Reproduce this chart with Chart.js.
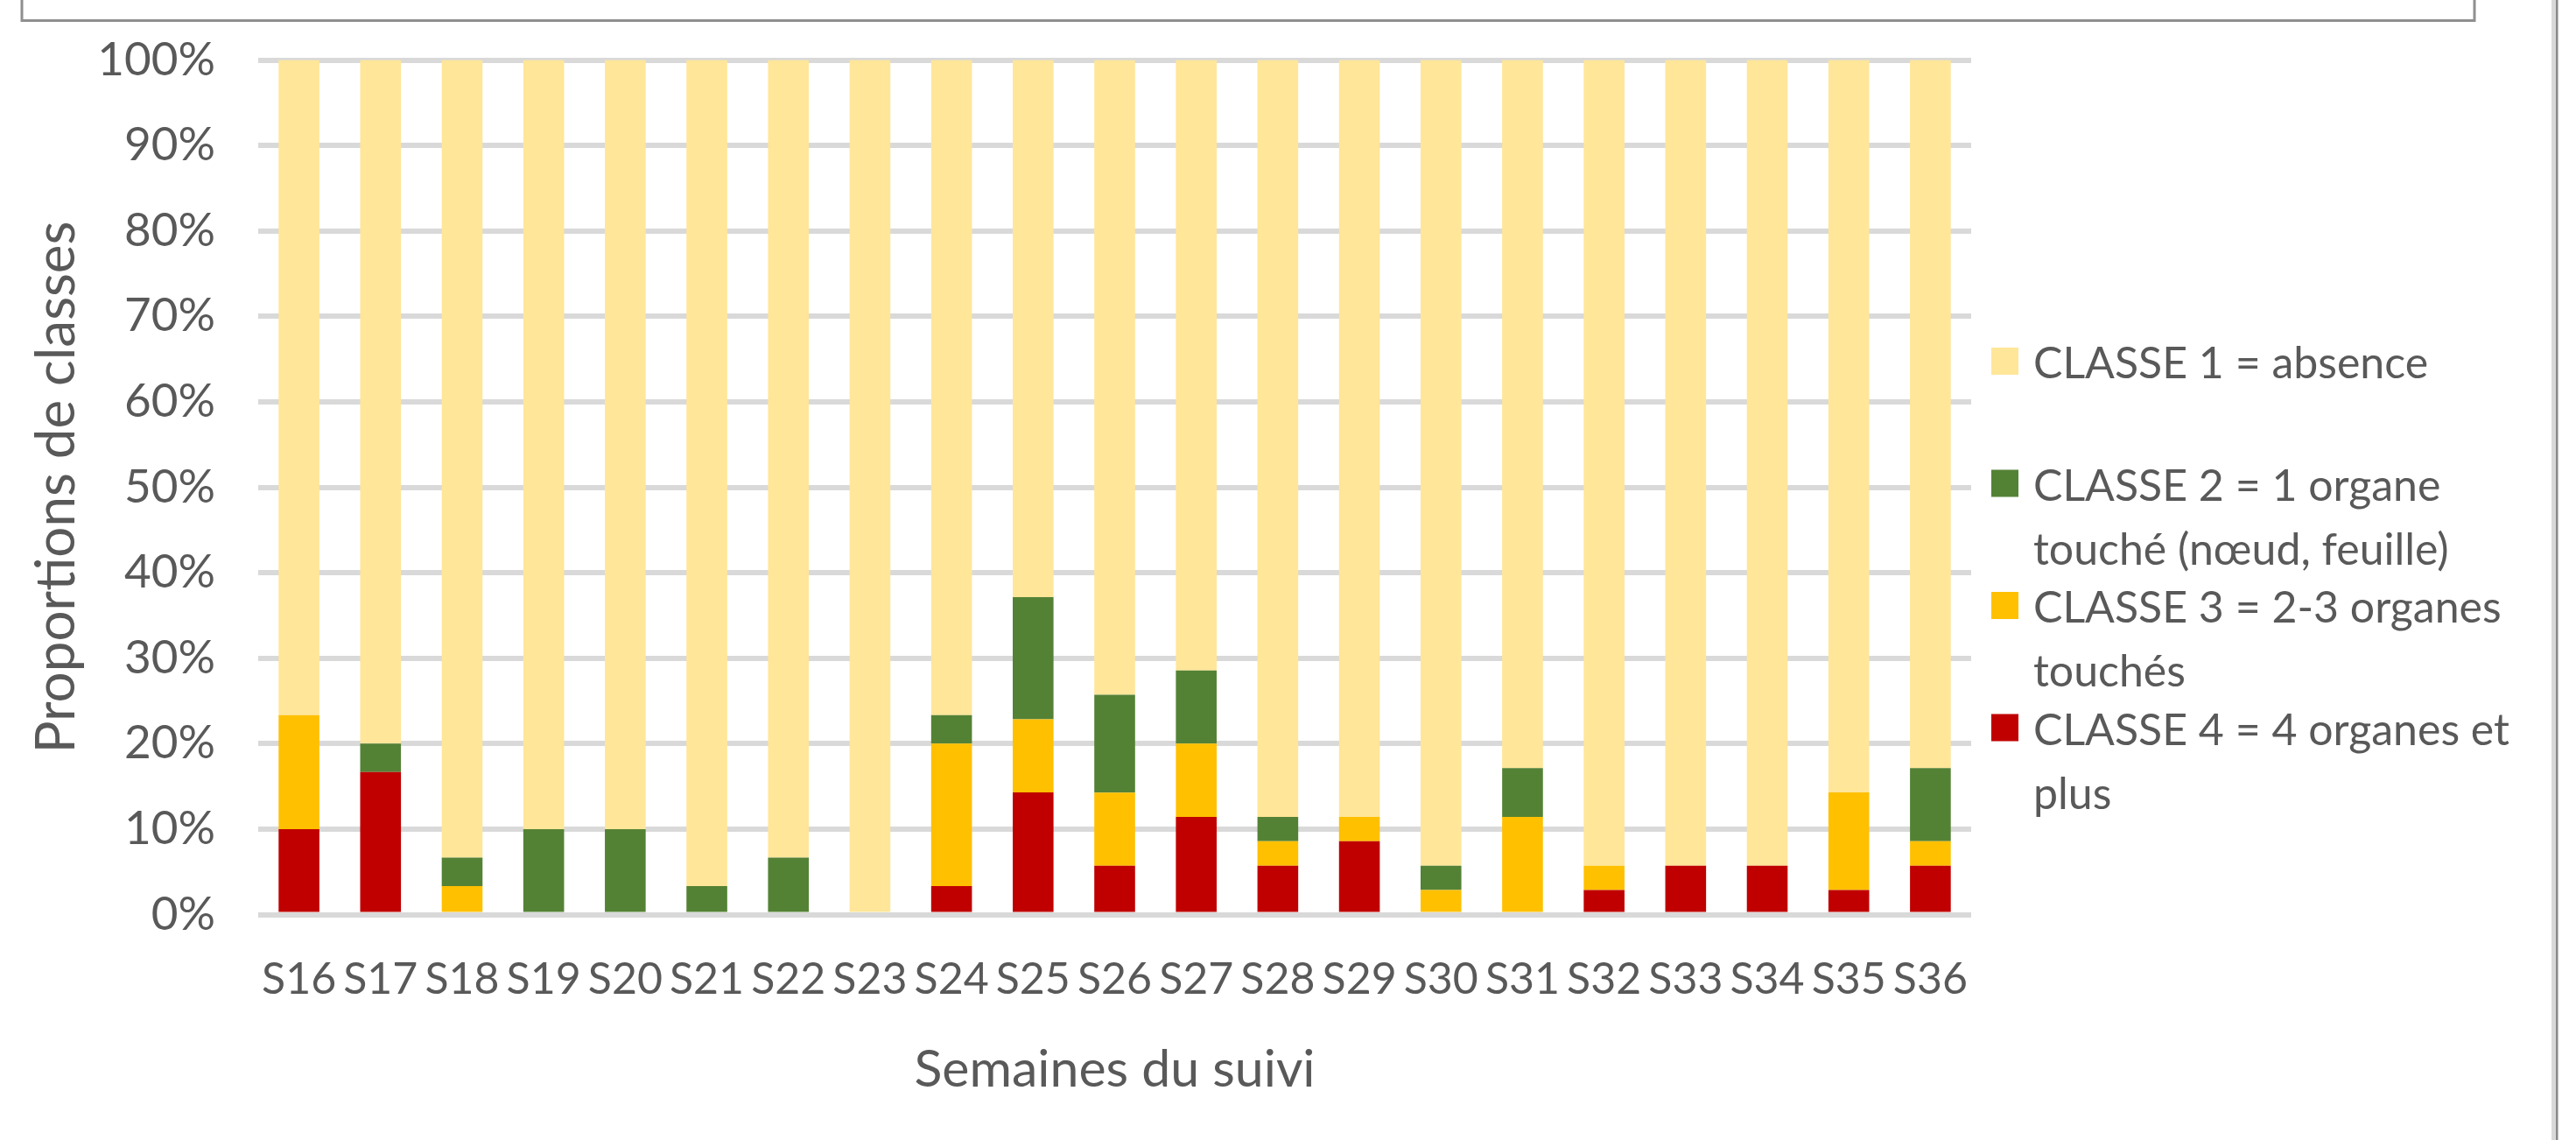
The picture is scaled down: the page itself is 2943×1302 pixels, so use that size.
<!DOCTYPE html>
<html>
<head>
<meta charset="utf-8">
<script src="https://cdn.jsdelivr.net/npm/chart.js@4.4.1/dist/chart.umd.min.js"></script>
<style>
  html, body { margin: 0; padding: 0; background: #ffffff; }
  #wrap { position: relative; width: 2943px; height: 1302px; }
</style>
</head>
<body>
<div id="wrap"><canvas id="c"></canvas></div>
<script>
// ---- Data ----
const weeks = ["S16","S17","S18","S19","S20","S21","S22","S23","S24","S25","S26","S27","S28","S29","S30","S31","S32","S33","S34","S35","S36"];
const classe1 = [76.67, 80, 93.33, 90, 90, 96.67, 93.33, 100, 76.67, 62.85, 74.29, 71.43, 88.57, 88.57, 94.28, 82.86, 94.28, 94.29, 94.29, 85.71, 82.86];
const classe2 = [0, 3.33, 3.33, 10, 10, 3.33, 6.67, 0, 3.33, 14.29, 11.43, 8.57, 2.86, 0, 2.86, 5.71, 0, 0, 0, 0, 8.57];
const classe3 = [13.33, 0, 3.33, 0, 0, 0, 0, 0, 16.67, 8.57, 8.57, 8.57, 2.86, 2.86, 2.86, 11.43, 2.86, 0, 0, 11.43, 2.86];
const classe4 = [10, 16.67, 0, 0, 0, 0, 0, 0, 3.33, 14.29, 5.71, 11.43, 5.71, 8.57, 0, 0, 2.86, 5.71, 5.71, 2.86, 5.71];
const yTicks = [0, 10, 20, 30, 40, 50, 60, 70, 80, 90, 100];
const legend1 = ["CLASSE 1 = absence"];
const legend2 = ["CLASSE 2 = 1 organe", "touché (nœud, feuille)"];
const legend3 = ["CLASSE 3 = 2-3 organes", "touchés"];
const legend4 = ["CLASSE 4 = 4 organes et", "plus"];
const yTitle = "Proportions de classes";
const xTitle = "Semaines du suivi";

// ---- Styles ----
const FAMILY = 'Lato, "Open Sans", sans-serif';
const TEXT = '#595959';

const framePlugin = {
  id: 'frame',
  beforeDraw(chart) {
    const ctx = chart.ctx;
    ctx.save();
    ctx.fillStyle = '#ffffff';
    ctx.fillRect(0, 0, chart.width, chart.height);
    ctx.strokeStyle = '#8f8f8f';
    ctx.lineWidth = 3;
    ctx.beginPath();
    ctx.moveTo(25, 0); ctx.lineTo(25, 23.5); ctx.lineTo(2827, 23.5); ctx.lineTo(2827, 0);
    ctx.stroke();
    ctx.fillStyle = '#d9d9d9';
    ctx.fillRect(2915, 0, 5, chart.height);
    ctx.fillStyle = '#8a8a8a';
    ctx.fillRect(2920, 0, 2.5, chart.height);
    ctx.restore();
  }
};

const legendPlugin = {
  id: 'sideLegend',
  afterDraw(chart) {
    const ctx = chart.ctx;
    const area = chart.chartArea;
    ctx.save();
    ctx.font = '50px ' + FAMILY;
    ctx.textBaseline = 'alphabetic';
    ctx.textAlign = 'left';
    const order = [3, 2, 1, 0];
    order.forEach((di, k) => {
      const ds = chart.data.datasets[di];
      const base = area.top + 363.5 + k * 139.5;
      ctx.fillStyle = ds.backgroundColor;
      ctx.fillRect(area.right + 23, base - 35, 31, 31);
      ctx.fillStyle = TEXT;
      ds.legendLines.forEach((t, j) => ctx.fillText(t, area.right + 71, base + j * 73));
    });
    ctx.restore();
  }
};

function zeroPad(scale) {
  scale.paddingTop = 0; scale.paddingBottom = 0;
  scale.paddingLeft = 0; scale.paddingRight = 0;
}

const ctx = document.getElementById('c');
new Chart(ctx, {
  type: 'bar',
  data: {
    labels: weeks,
    datasets: [
      { label: legend4.join(' '), legendLines: legend4, data: classe4, backgroundColor: '#C00000' },
      { label: legend3.join(' '), legendLines: legend3, data: classe3, backgroundColor: '#FFC000' },
      { label: legend2.join(' '), legendLines: legend2, data: classe2, backgroundColor: '#548235' },
      { label: legend1.join(' '), legendLines: legend1, data: classe1, backgroundColor: '#FFE699' }
    ]
  },
  options: {
    responsive: true,
    maintainAspectRatio: false,
    animation: false,
    devicePixelRatio: 1,
    layout: { padding: { top: 68.5, right: 691, left: 0, bottom: 0 } },
    datasets: { bar: { categoryPercentage: 1.0, barPercentage: 0.5, borderWidth: 0 } },
    plugins: {
      legend: { display: false },
      tooltip: { enabled: false },
      title: { display: false }
    },
    scales: {
      x: {
        stacked: true,
        grid: { display: false, drawTicks: false },
        border: { display: false },
        ticks: { color: TEXT, font: { family: FAMILY, size: 50 }, padding: 44, maxRotation: 0, autoSkip: false },
        title: { display: true, text: xTitle, color: TEXT, font: { family: FAMILY, size: 59 }, padding: { top: 0, bottom: 45 } },
        afterFit(scale) { scale.height = 257.5; zeroPad(scale); }
      },
      y: {
        stacked: true,
        min: 0,
        max: 100,
        afterBuildTicks(scale) { scale.ticks = yTicks.map(v => ({ value: v })); },
        grid: { color: '#d9d9d9', lineWidth: 6, drawTicks: false },
        border: { display: false },
        ticks: { color: TEXT, font: { family: FAMILY, size: 53 }, padding: 49, callback: v => v + '%' },
        title: { display: true, text: yTitle, color: TEXT, font: { family: FAMILY, size: 62 }, padding: { top: 28, bottom: 0 } },
        afterFit(scale) { scale.width = 295; zeroPad(scale); }
      }
    }
  },
  plugins: [framePlugin, legendPlugin]
});
</script>
</body>
</html>
